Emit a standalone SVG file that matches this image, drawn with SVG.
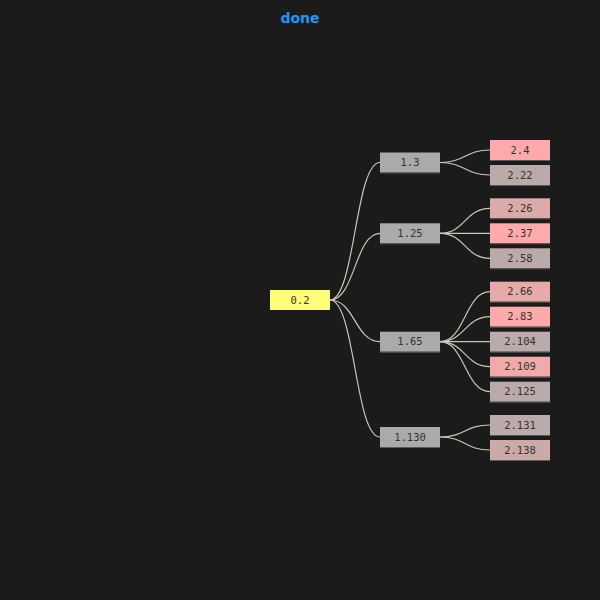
<svg xmlns="http://www.w3.org/2000/svg" width="600" height="600" viewBox="0 0 600 600">
<style>
.bg{fill:#1b1b1b}
.link{fill:none;stroke:#c8c8b4;stroke-width:1.2}
.box{stroke:none}
.edge{fill:#5a5a5a}
.lbl{font-family:"DejaVu Sans Mono","Liberation Mono",monospace;font-size:10.5px;fill:#333333;text-anchor:middle}
.title{font-family:"DejaVu Sans",Verdana,sans-serif;font-size:14px;font-weight:bold;fill:#2196f3;text-anchor:middle}
</style>
<rect class="bg" x="0" y="0" width="600" height="600"/>
<text class="title" x="300" y="23">done</text>
<g id="connectors">
<path class="link" d="M330,300 C355,300 355,162.5 380,162.5"/>
<path class="link" d="M330,300 C355,300 355,233.3 380,233.3"/>
<path class="link" d="M330,300 C355,300 355,341.7 380,341.7"/>
<path class="link" d="M330,300 C355,300 355,437 380,437"/>
<path class="link" d="M440,162.5 C465,162.5 465,150 490,150"/>
<path class="link" d="M440,162.5 C465,162.5 465,175 490,175"/>
<path class="link" d="M440,233.3 C465,233.3 465,208.3 490,208.3"/>
<path class="link" d="M440,233.3 C465,233.3 465,233.3 490,233.3"/>
<path class="link" d="M440,233.3 C465,233.3 465,258.3 490,258.3"/>
<path class="link" d="M440,341.7 C465,341.7 465,291.7 490,291.7"/>
<path class="link" d="M440,341.7 C465,341.7 465,316.7 490,316.7"/>
<path class="link" d="M440,341.7 C465,341.7 465,341.7 490,341.7"/>
<path class="link" d="M440,341.7 C465,341.7 465,366.7 490,366.7"/>
<path class="link" d="M440,341.7 C465,341.7 465,391.7 490,391.7"/>
<path class="link" d="M440,437 C465,437 465,425 490,425"/>
<path class="link" d="M440,437 C465,437 465,450 490,450"/>
</g>
<g id="n0_2"><rect class="box" x="270" y="290" width="60" height="20" fill="#ffff77"/><text class="lbl" x="300" y="303.5">0.2</text></g>
<g id="n1_3"><rect class="box" x="380" y="152.5" width="60" height="20" fill="#aaaaaa"/><rect class="edge" x="380" y="172.5" width="60" height="1"/><text class="lbl" x="410" y="166">1.3</text></g>
<g id="n1_25"><rect class="box" x="380" y="223.3" width="60" height="20" fill="#aaaaaa"/><rect class="edge" x="380" y="243.3" width="60" height="1"/><text class="lbl" x="410" y="236.8">1.25</text></g>
<g id="n1_65"><rect class="box" x="380" y="331.7" width="60" height="20" fill="#aaaaaa"/><rect class="edge" x="380" y="351.7" width="60" height="1"/><text class="lbl" x="410" y="345.2">1.65</text></g>
<g id="n1_130"><rect class="box" x="380" y="427" width="60" height="20" fill="#aaaaaa"/><rect class="edge" x="380" y="447" width="60" height="1"/><text class="lbl" x="410" y="440.5">1.130</text></g>
<g id="n2_4"><rect class="box" x="490" y="140" width="60" height="20" fill="#ffaaaa"/><rect class="edge" x="490" y="160" width="60" height="1"/><text class="lbl" x="520" y="153.5">2.4</text></g>
<g id="n2_22"><rect class="box" x="490" y="165" width="60" height="20" fill="#bbaaaa"/><rect class="edge" x="490" y="185" width="60" height="1"/><text class="lbl" x="520" y="178.5">2.22</text></g>
<g id="n2_26"><rect class="box" x="490" y="198.3" width="60" height="20" fill="#ddaaaa"/><rect class="edge" x="490" y="218.3" width="60" height="1"/><text class="lbl" x="520" y="211.8">2.26</text></g>
<g id="n2_37"><rect class="box" x="490" y="223.3" width="60" height="20" fill="#ffaaaa"/><rect class="edge" x="490" y="243.3" width="60" height="1"/><text class="lbl" x="520" y="236.8">2.37</text></g>
<g id="n2_58"><rect class="box" x="490" y="248.3" width="60" height="20" fill="#bbaaaa"/><rect class="edge" x="490" y="268.3" width="60" height="1"/><text class="lbl" x="520" y="261.8">2.58</text></g>
<g id="n2_66"><rect class="box" x="490" y="281.7" width="60" height="20" fill="#e6aaaa"/><rect class="edge" x="490" y="301.7" width="60" height="1"/><text class="lbl" x="520" y="295.2">2.66</text></g>
<g id="n2_83"><rect class="box" x="490" y="306.7" width="60" height="20" fill="#ffaaaa"/><rect class="edge" x="490" y="326.7" width="60" height="1"/><text class="lbl" x="520" y="320.2">2.83</text></g>
<g id="n2_104"><rect class="box" x="490" y="331.7" width="60" height="20" fill="#bbaaaa"/><rect class="edge" x="490" y="351.7" width="60" height="1"/><text class="lbl" x="520" y="345.2">2.104</text></g>
<g id="n2_109"><rect class="box" x="490" y="356.7" width="60" height="20" fill="#f0aaaa"/><rect class="edge" x="490" y="376.7" width="60" height="1"/><text class="lbl" x="520" y="370.2">2.109</text></g>
<g id="n2_125"><rect class="box" x="490" y="381.7" width="60" height="20" fill="#bbaaaa"/><rect class="edge" x="490" y="401.7" width="60" height="1"/><text class="lbl" x="520" y="395.2">2.125</text></g>
<g id="n2_131"><rect class="box" x="490" y="415" width="60" height="20" fill="#bbaaaa"/><rect class="edge" x="490" y="435" width="60" height="1"/><text class="lbl" x="520" y="428.5">2.131</text></g>
<g id="n2_138"><rect class="box" x="490" y="440" width="60" height="20" fill="#ccaaaa"/><rect class="edge" x="490" y="460" width="60" height="1"/><text class="lbl" x="520" y="453.5">2.138</text></g>
</svg>
